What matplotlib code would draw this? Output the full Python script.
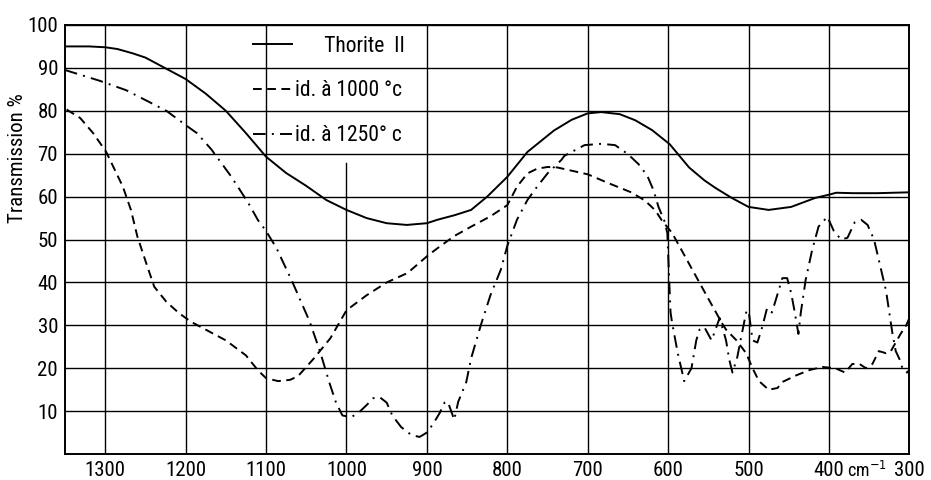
import matplotlib
matplotlib.use('Agg')
import matplotlib.pyplot as plt
import numpy as np

plt.rcParams['font.family'] = ['Roboto Condensed', 'DejaVu Sans']
plt.rcParams['font.stretch'] = 'condensed'

# Thorite II (solid)
wn_thorite = [1350, 1320, 1300, 1285, 1266, 1250, 1237, 1220, 1200, 1175, 1150, 1125, 1100, 1075,
              1050, 1025, 1000, 975, 950, 925, 900, 887, 865, 845, 825, 800, 775, 742, 720,
              700, 683, 660, 641, 620, 598, 574, 555, 541, 521, 500, 475, 447, 417, 401, 391,
              370, 340, 300]
tr_thorite = [95, 95, 94.8, 94.4, 93.4, 92.4, 91.1, 89.4, 87.4, 84, 80, 74.8, 69.3, 65.5,
              62.5, 59.2, 56.9, 55, 53.8, 53.4, 53.8, 54.6, 55.7, 56.9, 60, 64.6, 70.4, 75.4, 77.9,
              79.4, 79.7, 79.2, 77.8, 75.5, 72.2, 66.8, 63.8, 62, 59.7, 57.6, 56.9, 57.6, 59.7, 60.4, 60.9,
              60.8, 60.8, 61]

# id. a 1000 C (dashed)
wn_1000 = [1348, 1331, 1315, 1299, 1289, 1278, 1268, 1260, 1249, 1239, 1224, 1208, 1193, 1175, 1150,
           1125, 1110, 1100, 1085, 1070, 1060, 1040, 1020, 1000, 975, 950, 924, 898, 883,
           866, 845, 821, 800, 788, 775, 763, 750, 738, 700, 675, 646, 629, 616, 608, 595, 570,
           550, 533, 528, 515, 503, 495, 487, 475, 464, 458, 440, 424, 408, 392, 380, 371,
           362, 354, 346, 338, 329, 323, 317, 311, 304, 300]
tr_1000 = [80.3, 78.3, 74.8, 70.5, 66.6, 62.3, 56.9, 50.7, 44.5, 39, 35.5, 32.8, 30.8, 29, 26.5,
           23, 19.5, 17.7, 17, 17.3, 18.2, 22.4, 27, 33.5, 37, 40, 42.2, 46.4, 48.5,
           50.8, 53, 55.4, 58, 62.3, 65.4, 66.5, 66.9, 66.8, 65.2, 63.2, 61, 59.1, 56.8, 54.5, 51.5, 43,
           36.2, 30.5, 29, 26.5, 23.5, 20, 17, 15, 15.4, 16.8, 18.4, 19.6, 20.3, 20, 19, 21,
           21, 20, 21, 24, 23.5, 24, 26, 28, 30, 31.7]

# id. a 1250 C (dash-dot)
wn_1250 = [1350, 1307, 1274, 1250, 1224, 1195, 1186, 1168, 1143, 1122, 1110, 1100, 1087, 1067, 1046,
           1033, 1021, 1013, 1005, 994, 984, 975, 967, 959, 950, 943, 932, 919, 909, 901,
           893, 884, 878, 874, 869, 866, 861, 851, 845, 833, 821, 808, 800, 788, 775, 763, 750,
           733, 729, 704, 683, 666, 650, 637, 626, 618, 612, 605, 601, 599, 597, 595, 588, 580, 571, 565, 561,
           555, 546, 540, 536, 528, 524, 520, 514, 510, 503, 500, 495, 489, 483, 477, 471,
           466, 458, 452, 447, 443, 438, 435, 429, 421, 413, 402, 394, 385, 377, 368, 360,
           352, 344, 336, 329, 325, 321, 317, 312, 308, 303, 300]
tr_1250 = [89.5, 87, 84.8, 82.5, 80, 76, 74.8, 71, 64.6, 58.5, 54.5, 52, 48, 40, 31,
           24, 16.5, 12, 9, 8.6, 9.8, 11.4, 13, 13.3, 12, 9, 6.3, 4.4, 4, 4.9,
           6.8, 9.6, 12, 12.2, 9.6, 8, 12.2, 16.8, 22.3, 30, 37, 43, 48.5, 54.6, 59.2, 62.3, 65.4,
           68.5, 69.5, 72, 72.3, 72, 69.9, 67.6, 64.9, 61.4, 57.6, 54.5, 51.5, 42, 33, 30.5, 23.5, 17, 20, 26.5, 29,
           29.6, 26.5, 29.6, 31.7, 26.5, 22, 19, 22.6, 26.5, 33, 33.5, 26.5, 26, 29.6, 34, 33,
           36, 41, 41, 37.5, 33.5, 28, 33, 40.6, 47.5, 53, 55.3, 52, 50, 50.4, 54, 54.6,
           53.4, 50, 43.6, 38, 33, 28, 24, 22, 19.6, 19, 19.6]

x_ticks = [1300, 1200, 1100, 1000, 900, 800, 700, 600, 500, 400, 300]
y_ticks = [10, 20, 30, 40, 50, 60, 70, 80, 90, 100]
labels = ['      Thorite  II', 'id. à 1000 °c', 'id. à 1250° c']

fig = plt.figure(figsize=(9.31, 4.8), dpi=100)
ax = fig.add_axes([0.0698, 0.054, 0.907, 0.894])

# grid drawn by hand: the 1000 line stops under the legend
for y in y_ticks:
    ax.axhline(y, color='black', lw=1.0, zorder=1)
for x in x_ticks:
    top = 0.678 if x == 1000 else 1.0
    ax.axvline(x, ymax=top, color='black', lw=1.0, zorder=1)

l1, = ax.plot(wn_thorite, tr_thorite, color='black', lw=1.4)
l2, = ax.plot(wn_1000, tr_1000, color='black', lw=1.4)
l2.set_dashes((4.5, 2.8))
l3, = ax.plot(wn_1250, tr_1250, color='black', lw=1.4)
l3.set_dashes((6.5, 3.2, 1.0, 3.2))

ax.set_xlim(1350, 300)
ax.set_ylim(0, 100)
ax.set_xticks(x_ticks)
ax.set_xticklabels([str(x) for x in x_ticks])
ax.set_yticks(y_ticks)
ax.tick_params(length=0, labelsize=15, pad=5)
for s in ax.spines.values():
    s.set_linewidth(1.4)

ax.text(378, -0.04, 'cm$^{-1}$', transform=ax.get_xaxis_transform(),
        ha='left', va='center', fontsize=13)

ax.set_ylabel('Transmission %', fontsize=15)
ax.yaxis.set_label_coords(-0.045, 0.69)

leg = ax.legend([l1, l2, l3], labels, loc='upper left', bbox_to_anchor=(0.21, 1.0),
                frameon=False, fontsize=15.5, handlelength=1.8, handletextpad=0.15,
                labelspacing=1.1, borderaxespad=0.1)

fig.savefig('out.png', dpi=100)
